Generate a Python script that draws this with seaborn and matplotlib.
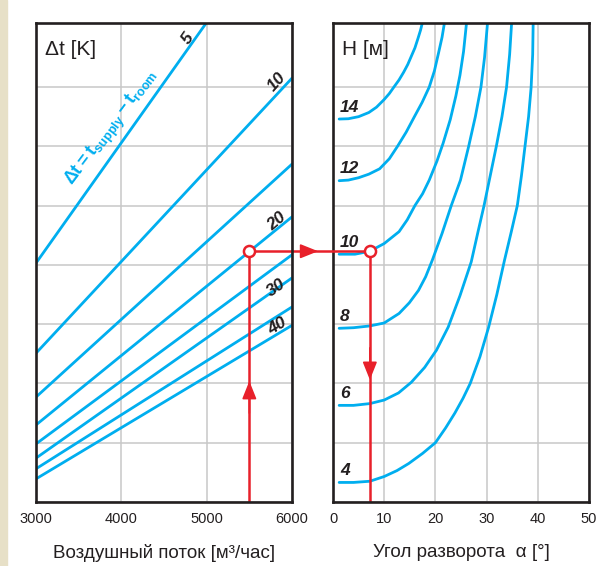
import pandas as pd
import seaborn as sns
import matplotlib.pyplot as plt
from matplotlib.patches import Rectangle

# left panel: one straight line per temperature difference,
# heights are in grid units (the chart has no y scale)
flow = [3000, 6000]
dt_values = [5, 10, 15, 20, 25, 30, 35, 40]
dt_at_3000 = [4.03, 2.51, 1.77, 1.30, 0.98, 0.74, 0.56, 0.39]
dt_at_6000 = [10.12, 7.15, 5.70, 4.81, 4.17, 3.78, 3.29, 2.98]
flow_ticks = [3000, 4000, 5000, 6000]

# right panel: throw height curves, angle [deg] vs grid units
h_values = [4, 6, 8, 10, 12, 14]
angle_h4 = [1.2, 4.0, 7.2, 10.0, 12.5, 14.8, 17.5, 20.0, 22.0, 23.8, 25.4, 26.8,
            28.7, 30.4, 32.0, 33.5, 34.8, 36.0, 36.8, 37.5, 38.2, 38.7, 39.0, 39.1]
level_h4 = [0.33, 0.33, 0.35, 0.43, 0.53, 0.65, 0.82, 1.00, 1.25, 1.50, 1.75, 2.00,
            2.45, 2.95, 3.50, 4.08, 4.55, 5.00, 5.50, 6.00, 6.50, 7.00, 7.55, 8.10]
angle_h6 = [1.2, 4.0, 7.2, 10.0, 12.8, 15.3, 17.9, 20.2, 22.5, 24.8, 27.0, 28.3,
            29.5, 30.7, 31.9, 33.0, 33.9, 34.5, 34.9]
level_h6 = [1.63, 1.63, 1.66, 1.72, 1.84, 2.02, 2.27, 2.56, 2.95, 3.48, 4.05, 4.55,
            5.00, 5.50, 6.00, 6.50, 7.00, 7.55, 8.10]
angle_h8 = [1.2, 4.0, 7.2, 10.0, 12.9, 14.9, 16.7, 18.1, 19.4, 21.3, 23.1, 24.9,
            26.5, 27.8, 28.9, 29.6, 30.2]
level_h8 = [2.93, 2.94, 2.97, 3.02, 3.18, 3.36, 3.57, 3.80, 4.08, 4.53, 5.00, 5.43,
            6.00, 6.50, 7.00, 7.50, 8.10]
angle_h10 = [1.2, 4.3, 7.2, 10.0, 12.9, 14.5, 16.0, 17.5, 18.8, 20.3, 21.5, 22.9,
             24.0, 24.8, 25.5, 26.1]
level_h10 = [4.18, 4.18, 4.23, 4.36, 4.56, 4.76, 5.00, 5.20, 5.43, 5.75, 6.05, 6.45,
             6.85, 7.20, 7.60, 8.10]
angle_h12 = [1.2, 3.0, 5.0, 7.0, 9.1, 11.0, 12.6, 14.3, 15.9, 17.4, 18.8, 19.8,
             20.6, 21.3, 21.8]
level_h12 = [5.42, 5.43, 5.47, 5.53, 5.62, 5.79, 6.00, 6.24, 6.50, 6.74, 7.00, 7.27,
             7.57, 7.84, 8.10]
angle_h14 = [1.2, 3.0, 5.0, 7.0, 8.5, 10.0, 11.0, 11.9, 12.9, 13.8, 14.6, 15.3,
             16.0, 16.6, 17.1, 17.5]
level_h14 = [6.46, 6.465, 6.50, 6.57, 6.66, 6.79, 6.89, 7.00, 7.12, 7.25, 7.38, 7.52,
             7.66, 7.82, 7.96, 8.10]
angle_ticks = [0, 10, 20, 30, 40, 50]

# worked example (red path)
example_flow = 5500
example_angle = 7.2
example_level = 4.23

CYAN = '#00AEEF'
RED = '#E8202A'
DARK = '#231F20'
GRID = '#C8C8C8'

sns.set_style('white')
plt.rcParams['font.family'] = ['Liberation Sans', 'DejaVu Sans']
plt.rcParams['mathtext.fontset'] = 'custom'
plt.rcParams['mathtext.rm'] = 'Liberation Sans'
plt.rcParams['mathtext.bf'] = 'Liberation Sans:bold'

left = pd.DataFrame({
    'flow': flow * len(dt_values),
    'y': [v for pair in zip(dt_at_3000, dt_at_6000) for v in pair],
    'dt': [d for d in dt_values for _ in flow],
})
curve_angles = [angle_h4, angle_h6, angle_h8, angle_h10, angle_h12, angle_h14]
curve_levels = [level_h4, level_h6, level_h8, level_h10, level_h12, level_h14]
right = pd.concat([pd.DataFrame({'angle': a, 'y': l, 'H': h})
                   for h, a, l in zip(h_values, curve_angles, curve_levels)])

fig = plt.figure(figsize=(5.99, 5.66), dpi=100)
fig.patches.append(Rectangle((0, 0), 7 / 599, 1, transform=fig.transFigure,
                             color='#E7E0C7', zorder=0))
ax2 = fig.add_axes([333 / 599, 64 / 566, 256 / 599, 479 / 566], zorder=1)
ax1 = fig.add_axes([36 / 599, 64 / 566, 256 / 599, 479 / 566], zorder=2)
ax1.set_facecolor('none')

for ax in (ax1, ax2):
    ax.set_ylim(0, 8.08)
    ax.set_yticks(range(8))
    ax.set_yticklabels([])
    ax.grid(True, color=GRID, lw=1.1)
    ax.set_axisbelow(True)
    ax.tick_params(length=0, pad=7, labelsize=10.5, colors=DARK)
    for s in ax.spines.values():
        s.set_color(DARK)
        s.set_linewidth(1.9)
        s.set_visible(True)

sns.lineplot(data=left, x='flow', y='y', units='dt', estimator=None,
             color=CYAN, lw=2.0, ax=ax1)
ax1.set_xlim(3000, 6000)
ax1.set_xticks(flow_ticks)
ax1.set_xlabel('Воздушный поток [м³/час]', fontsize=13.5, color=DARK, labelpad=13)
ax1.set_ylabel('')
ax1.text(0.035, 0.965, 'Δt [K]', transform=ax1.transAxes, fontsize=15,
         color=DARK, ha='left', va='top')

for txt, x, y, rot in [('5', 4781, 7.82, 55), ('10', 5824, 7.08, 48),
                       ('20', 5824, 4.74, 40), ('30', 5813, 3.61, 35),
                       ('40', 5824, 2.97, 31)]:
    ax1.text(x, y, txt, rotation=rot, ha='center', va='center', fontsize=12.5,
             fontweight='heavy', style='italic', color=DARK)
ax1.text(3891, 6.31, r'$\mathbf{\Delta t = t_{supply} - t_{room}}$',
         rotation=53, ha='center', va='center', fontsize=13, color=CYAN)

sns.lineplot(data=right, x='angle', y='y', units='H', estimator=None, sort=False,
             color=CYAN, lw=2.0, ax=ax2)
ax2.set_xlim(0, 50)
ax2.set_xticks(angle_ticks)
ax2.set_xlabel('Угол разворота  α [°]', fontsize=13.5, color=DARK, labelpad=13)
ax2.set_ylabel('')
ax2.text(0.035, 0.965, 'H [м]', transform=ax2.transAxes, fontsize=15,
         color=DARK, ha='left', va='top')
for h, lv in zip(h_values, curve_levels):
    ax2.text(1.4, lv[0] + 0.2, str(h), ha='left', va='center', fontsize=12.5,
             fontweight='heavy', style='italic', color=DARK)

# red path: up the flow line, across to the height curve, down to the angle
ax1.plot([example_flow, example_flow], [0, example_level], color=RED, lw=1.8)
ax2.plot([example_angle, example_angle], [0, example_level], color=RED, lw=1.8)
x_right = ax1.transData.inverted().transform(
    ax2.transData.transform((example_angle, example_level)))[0]
ax1.plot([example_flow, x_right], [example_level, example_level], color=RED,
         lw=1.8, clip_on=False)
ax1.plot([example_flow, x_right], [example_level, example_level], 'o', ms=8,
         mfc='white', mec=RED, mew=1.8, clip_on=False, zorder=6)

head = dict(arrowstyle='-|>,head_length=0.55,head_width=0.22', color=RED,
            lw=1.2, mutation_scale=20, shrinkA=0, shrinkB=0)
ax1.annotate('', xy=(example_flow, 2.04), xytext=(example_flow, 1.5), arrowprops=head)
ax2.annotate('', xy=(example_angle, 2.06), xytext=(example_angle, 2.6), arrowprops=head)
ax2.annotate('', xy=(-2.9, example_level), xytext=(-6.0, example_level),
             arrowprops=head, annotation_clip=False)

plt.savefig('out.png', dpi=100)
